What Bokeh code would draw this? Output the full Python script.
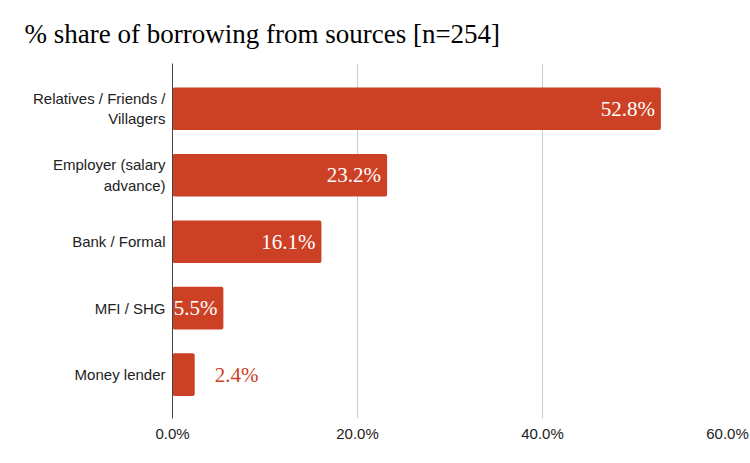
from bokeh.plotting import figure
from bokeh.models import ColumnDataSource, Range1d, FixedTicker
from bokeh.embed import file_html
from bokeh.resources import INLINE
from bokeh.core.properties import value

categories = ["Relatives / Friends /\nVillagers", "Employer (salary\nadvance)",
              "Bank / Formal", "MFI / SHG", "Money lender"]
shares = [52.8, 23.2, 16.1, 5.5, 2.4]
x_ticks = [0, 20, 40, 60]
x_tick_labels = ["0.0%", "20.0%", "40.0%", "60.0%"]
title_text = "% share of borrowing from sources [n=254]"

BAR = "#CC4125"
pos = list(range(len(categories)))
labels = [f"{v:.1f}%" for v in shares]
inside = [v >= 4 for v in shares]

src_in = ColumnDataSource(dict(y=[p for p, i in zip(pos, inside) if i],
                               x=[v for v, i in zip(shares, inside) if i],
                               t=[l for l, i in zip(labels, inside) if i]))
src_out = ColumnDataSource(dict(y=[p for p, i in zip(pos, inside) if not i],
                                x=[v for v, i in zip(shares, inside) if not i],
                                t=[l for l, i in zip(labels, inside) if not i]))

p = figure(width=750, height=463, output_backend="svg", toolbar_location=None,
           x_range=Range1d(0, 60), y_range=Range1d(4.66, -0.68),
           min_border_left=172, min_border_right=23, min_border_top=63,
           min_border_bottom=45, title=title_text)
p.outline_line_color = None
p.background_fill_color = "white"
p.border_fill_color = "white"

p.title.text_font = "Liberation Serif"
p.title.text_font_size = "27px"
p.title.text_font_style = "normal"
p.title.text_color = "#000000"
p.title.align = "left"
p.title.offset = -148
p.title.standoff = 29

src = ColumnDataSource(dict(y=pos, x=shares))
p.hbar(y="y", right="x", left=0, height=0.64, source=src, color=BAR,
       line_color=None, border_radius=2)

p.text(x="x", y="y", text="t", source=src_in, text_align="right",
       text_baseline="middle", x_offset=-6, text_color="white",
       text_font=value("Liberation Serif"), text_font_size="21px")
p.text(x="x", y="y", text="t", source=src_out, text_align="left",
       text_baseline="middle", x_offset=20, text_color=BAR,
       text_font=value("Liberation Serif"), text_font_size="21px")

p.xaxis.ticker = FixedTicker(ticks=x_ticks)
p.xaxis.major_label_overrides = {t: l for t, l in zip(x_ticks, x_tick_labels)}
p.xaxis.axis_line_color = None
p.xaxis.major_tick_line_color = None
p.xaxis.major_tick_out = 0
p.xaxis.major_tick_in = 0
p.xaxis.minor_tick_line_color = None
p.xaxis.major_label_text_font = "Liberation Sans"
p.xaxis.major_label_text_font_size = "15px"
p.xaxis.major_label_text_color = "#222222"
p.xaxis.major_label_standoff = 6

p.yaxis.ticker = FixedTicker(ticks=pos)
p.yaxis.major_label_overrides = {i: c for i, c in zip(pos, categories)}
p.yaxis.axis_line_color = "#444444"
p.yaxis.axis_line_width = 1
p.yaxis.major_tick_line_color = None
p.yaxis.major_tick_out = 0
p.yaxis.major_tick_in = 0
p.yaxis.minor_tick_line_color = None
p.yaxis.major_label_text_font = "Liberation Sans"
p.yaxis.major_label_text_font_size = "15px"
p.yaxis.major_label_text_color = "#222222"
p.yaxis.major_label_standoff = 7

p.xgrid.ticker = FixedTicker(ticks=x_ticks)
p.xgrid.grid_line_color = "#cccccc"
p.ygrid.grid_line_color = None

open("out.html", "w").write(file_html(p, INLINE))
